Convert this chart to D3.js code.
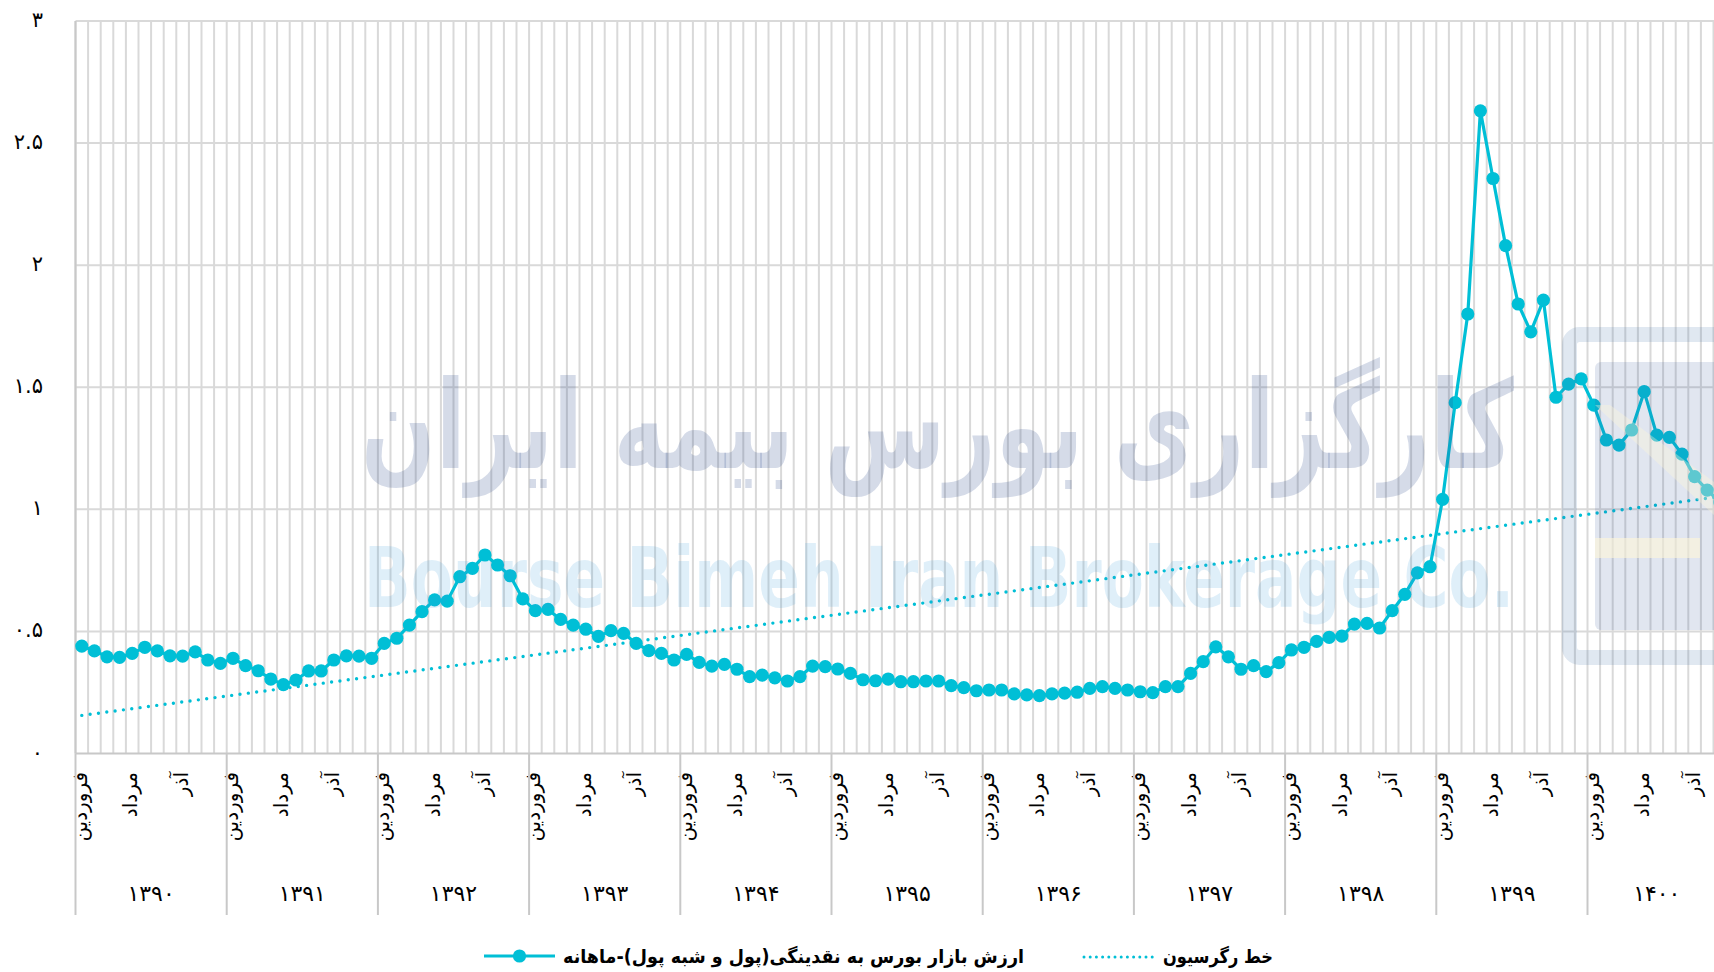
<!DOCTYPE html>
<html>
<head>
<meta charset="utf-8">
<script src="https://cdn.jsdelivr.net/npm/d3@7"></script>
<style>
  body { margin: 0; background: #fff; }
  text { font-family: "DejaVu Sans", sans-serif; fill: #000; }
</style>
</head>
<body>
<div class="chart"></div>
<script>
// data
const years = ['۱۳۹۰', '۱۳۹۱', '۱۳۹۲', '۱۳۹۳', '۱۳۹۴', '۱۳۹۵', '۱۳۹۶', '۱۳۹۷', '۱۳۹۸', '۱۳۹۹', '۱۴۰۰'];
const months = ['فروردین', 'اردیبهشت', 'خرداد', 'تیر', 'مرداد', 'شهریور', 'مهر', 'آبان', 'آذر', 'دی', 'بهمن', 'اسفند'];
const values = [
  0.440, 0.420, 0.396, 0.394, 0.410, 0.435, 0.420, 0.400, 0.399, 0.416, 0.383, 0.369, // 1390
  0.390, 0.360, 0.339, 0.305, 0.282, 0.301, 0.338, 0.338, 0.383, 0.400, 0.399, 0.390, // 1391
  0.451, 0.472, 0.526, 0.581, 0.629, 0.624, 0.724, 0.758, 0.813, 0.772, 0.728, 0.633, // 1392
  0.585, 0.590, 0.549, 0.526, 0.509, 0.480, 0.503, 0.492, 0.451, 0.421, 0.410, 0.383, // 1393
  0.406, 0.373, 0.358, 0.365, 0.345, 0.315, 0.321, 0.310, 0.297, 0.315, 0.358, 0.356, // 1394
  0.346, 0.328, 0.302, 0.298, 0.305, 0.294, 0.294, 0.297, 0.297, 0.278, 0.270, 0.257, // 1395
  0.260, 0.260, 0.244, 0.240, 0.237, 0.244, 0.247, 0.251, 0.267, 0.274, 0.267, 0.260, // 1396
  0.253, 0.249, 0.274, 0.274, 0.328, 0.376, 0.437, 0.396, 0.345, 0.360, 0.335, 0.372, // 1397
  0.424, 0.435, 0.459, 0.476, 0.481, 0.530, 0.533, 0.514, 0.585, 0.652, 0.740, 0.765, // 1398
  1.041, 1.437, 1.800, 2.632, 2.355, 2.080, 1.841, 1.727, 1.857, 1.459, 1.513, 1.534, // 1399
  1.427, 1.284, 1.263, 1.325, 1.482, 1.304, 1.295, 1.226, 1.134, 1.079, 1.030        // 1400
];
const yTicks = [0, 0.5, 1, 1.5, 2, 2.5, 3];
const yTickLabels = ['۰', '۰.۵', '۱', '۱.۵', '۲', '۲.۵', '۳'];
// regression line read at first and last month
const trendValues = [0.156, 1.052];
const seriesName = 'ارزش بازار بورس به نقدینگی(پول و شبه پول)-ماهانه';
const trendName = 'خط رگرسیون';

const W = 1714, H = 972;
const plotLeft = 75.5, monthStep = 12.6, plotTop = 21, plotBottom = 753.5;
const color = '#00bfd6';

const svg = d3.select('.chart').append('svg')
  .attr('width', W).attr('height', H);
svg.append('rect').attr('width', W).attr('height', H).attr('fill', '#fff');

const x = d3.scaleBand()
  .domain(d3.range(values.length))
  .range([plotLeft, plotLeft + monthStep * values.length]);
const y = d3.scaleLinear().domain([0, 3]).range([plotBottom, plotTop]);
const plotRight = x.range()[1];
const cx = i => x(i) + x.bandwidth() / 2;

// grid
const grid = svg.append('g');
grid.selectAll('.vgrid')
  .data(d3.range(values.length + 1))
  .enter().append('line')
    .attr('x1', i => plotLeft + i * x.step()).attr('x2', i => plotLeft + i * x.step())
    .attr('y1', plotTop).attr('y2', plotBottom)
    .attr('stroke', '#d9d9d9').attr('stroke-width', 2);
grid.selectAll('.hgrid')
  .data(yTicks)
  .enter().append('line')
    .attr('x1', plotLeft).attr('x2', plotRight)
    .attr('y1', d => y(d)).attr('y2', d => y(d))
    .attr('stroke', d => d === 0 ? '#c8c8c8' : '#d9d9d9').attr('stroke-width', 2);
grid.append('line')
  .attr('x1', plotLeft).attr('x2', plotLeft).attr('y1', plotTop).attr('y2', plotBottom)
  .attr('stroke', '#c8c8c8').attr('stroke-width', 2);

// y labels
svg.selectAll('.ylab')
  .data(yTicks)
  .enter().append('text')
    .attr('x', 43).attr('y', d => y(d) + 6)
    .attr('text-anchor', 'end')
    .style('font-size', '21px')
    .text((d, i) => yTickLabels[i]);

// month labels
const monthIdx = d3.range(values.length).filter(i => i % 4 === 0);
svg.selectAll('.mlab')
  .data(monthIdx)
  .enter().append('text')
    .attr('transform', i => `translate(${cx(i) + 5},772) rotate(-90)`)
    .attr('text-anchor', 'end')
    .style('font-size', '20px')
    .text(i => months[i % 12]);

// year separators and labels
svg.selectAll('.ysep')
  .data(years)
  .enter().append('line')
    .attr('x1', (d, k) => x(k * 12)).attr('x2', (d, k) => x(k * 12))
    .attr('y1', plotBottom).attr('y2', 915)
    .attr('stroke', '#c8c8c8').attr('stroke-width', 2);
svg.selectAll('.yearlab')
  .data(years)
  .enter().append('text')
    .attr('x', (d, k) => {
      const a = x(k * 12);
      const b = x(Math.min(k * 12 + 11, values.length - 1)) + x.bandwidth();
      return (a + b) / 2;
    })
    .attr('y', 901)
    .attr('text-anchor', 'middle')
    .style('font-size', '22px')
    .text(d => d);

// regression line
svg.append('line')
  .attr('x1', cx(0)).attr('y1', y(trendValues[0]))
  .attr('x2', cx(values.length - 1)).attr('y2', y(trendValues[1]))
  .attr('stroke', color).attr('stroke-width', 3.4)
  .attr('stroke-linecap', 'round').attr('stroke-dasharray', '0 8.4');

// series
svg.append('path')
  .datum(values)
  .attr('fill', 'none').attr('stroke', color).attr('stroke-width', 3.2)
  .attr('stroke-linejoin', 'round')
  .attr('d', d3.line().x((d, i) => cx(i)).y(d => y(d)));
svg.selectAll('.dot')
  .data(values)
  .enter().append('circle')
    .attr('cx', (d, i) => cx(i)).attr('cy', d => y(d))
    .attr('r', 6.6).attr('fill', color);

// legend
const lg = svg.append('g');
lg.append('line').attr('x1', 484).attr('x2', 555).attr('y1', 956).attr('y2', 956)
  .attr('stroke', color).attr('stroke-width', 3.2);
lg.append('circle').attr('cx', 519.5).attr('cy', 956).attr('r', 6.6).attr('fill', color);
lg.append('text').attr('x', 563).attr('y', 963)
  .attr('textLength', 461).attr('lengthAdjust', 'spacingAndGlyphs')
  .style('font-size', '19px').style('font-weight', 'bold')
  .text(seriesName);
lg.append('line').attr('x1', 1084).attr('x2', 1153).attr('y1', 957).attr('y2', 957)
  .attr('stroke', color).attr('stroke-width', 3)
  .attr('stroke-linecap', 'round').attr('stroke-dasharray', '0 6.2');
lg.append('text').attr('x', 1163).attr('y', 963)
  .attr('textLength', 110).attr('lengthAdjust', 'spacingAndGlyphs')
  .style('font-size', '19px').style('font-weight', 'bold')
  .text(trendName);

// watermark overlay
const wm = svg.append('g').style('pointer-events', 'none');
wm.append('text')
  .attr('x', 361).attr('y', 468)
  .attr('textLength', 1153).attr('lengthAdjust', 'spacingAndGlyphs')
  .style('font-size', '122px').style('font-weight', 'bold')
  .style('fill', '#2b4a8b').style('fill-opacity', 0.2)
  .text('کارگزاری بورس بیمه ایران');
wm.append('text')
  .attr('x', 364).attr('y', 607)
  .attr('textLength', 1150).attr('lengthAdjust', 'spacingAndGlyphs')
  .style('font-size', '83px').style('font-weight', 'bold')
  .style('fill', '#3a9ad9').style('fill-opacity', 0.16)
  .text('Bourse Bimeh Iran Brokerage Co.');
wm.append('rect')
  .attr('x', 1569.5).attr('y', 334.5).attr('width', 220).attr('height', 323).attr('rx', 10)
  .attr('fill', 'none').attr('stroke', '#3d6ea8').attr('stroke-opacity', 0.16).attr('stroke-width', 15);
wm.append('rect')
  .attr('x', 1595).attr('y', 362).attr('width', 200).attr('height', 268).attr('rx', 6)
  .attr('fill', '#35579a').attr('fill-opacity', 0.15);
wm.append('path')
  .attr('d', 'M1595,405 L1610,405 L1714,482 L1714,515 Z')
  .attr('fill', '#fff6d8').attr('fill-opacity', 0.35);
wm.append('rect')
  .attr('x', 1595).attr('y', 538).attr('width', 105).attr('height', 20)
  .attr('fill', '#fff6d8').attr('fill-opacity', 0.6);
</script>
</body>
</html>
